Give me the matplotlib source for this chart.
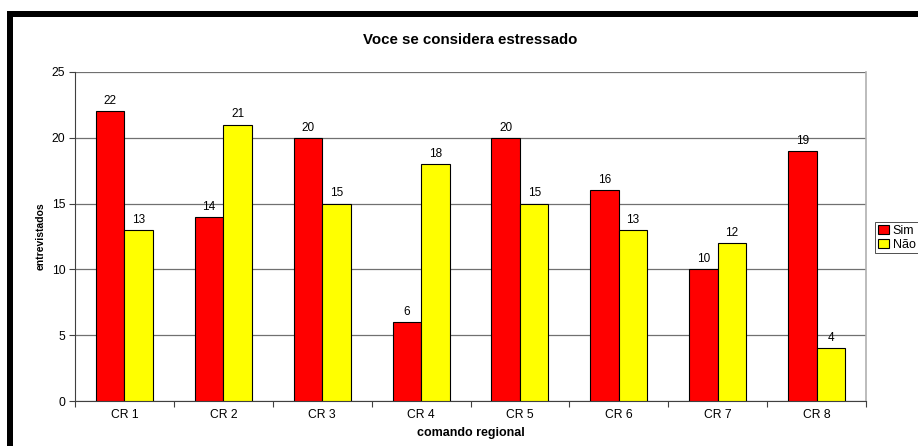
import numpy as np
import matplotlib
matplotlib.use('Agg')
import matplotlib.pyplot as plt
from matplotlib.patches import Rectangle

plt.rcParams['font.family'] = ['Liberation Sans', 'DejaVu Sans']

categorias = ['CR 1', 'CR 2', 'CR 3', 'CR 4', 'CR 5', 'CR 6', 'CR 7', 'CR 8']
sim = [22, 14, 20, 6, 20, 16, 10, 19]
nao = [13, 21, 15, 18, 15, 13, 12, 4]

fig = plt.figure(figsize=(9.18, 4.46), dpi=100)
ax = fig.add_axes([75/918, 45/446, 791/918, 329/446])

x = np.arange(len(categorias))
w = 0.288
b1 = ax.bar(x - w/2, sim, w, color='#ff0000', edgecolor='black', linewidth=0.8, label='Sim', zorder=3)
b2 = ax.bar(x + w/2, nao, w, color='#ffff00', edgecolor='black', linewidth=0.8, label='Não', zorder=3)

for barras in (b1, b2):
    for r in barras:
        ax.annotate(str(int(r.get_height())), (r.get_x() + r.get_width()/2, r.get_height()),
                    xytext=(0, 3), textcoords='offset points', ha='center', va='bottom',
                    fontsize=8.5)

ax.set_xlim(-0.5, len(categorias) - 0.5)
ax.set_ylim(0, 25)
ax.set_yticks(range(0, 26, 5))
ax.yaxis.grid(True, color='#707070', linewidth=0.9, zorder=0)
ax.set_xticks(x)
ax.set_xticklabels(categorias)
ax.set_xticks(np.arange(-0.5, len(categorias)), minor=True)
ax.tick_params(axis='x', which='major', length=0, labelsize=8.7, pad=6)
ax.tick_params(axis='x', which='minor', length=4, width=0.8, color='#404040', direction='out')
ax.tick_params(axis='y', length=4, width=0.8, color='#404040', labelsize=8.7, pad=3)

ax.spines['top'].set_visible(False)
ax.spines['right'].set_color('#b0b0b0')
ax.spines['right'].set_linewidth(1.2)
ax.spines['left'].set_color('#404040')
ax.spines['bottom'].set_color('#404040')

ax.set_ylabel('entrevistados', fontsize=7.5, fontweight='bold', labelpad=4)
ax.set_xlabel('comando regional', fontsize=9, fontweight='bold', labelpad=4)
fig.text(470/918, 1 - 40/446, 'Voce se considera estressado', ha='center', va='center',
         fontsize=10.8, fontweight='bold')

leg = fig.legend(loc='upper left', bbox_to_anchor=(875/918, 1 - 222/446), fontsize=9,
                 frameon=True, fancybox=False, edgecolor='black', handlelength=0.9,
                 handleheight=0.8, handletextpad=0.3, borderpad=0.2, labelspacing=0.15,
                 borderaxespad=0)
leg.get_frame().set_linewidth(0.6)

# moldura preta do grafico
fig.add_artist(Rectangle((7/918, 0), 6/918, 1 - 11/446, transform=fig.transFigure,
                         color='black', lw=0))
fig.add_artist(Rectangle((7/918, 1 - 17/446), 1, 6/446, transform=fig.transFigure,
                         color='black', lw=0))

fig.savefig('out.png', dpi=100)
